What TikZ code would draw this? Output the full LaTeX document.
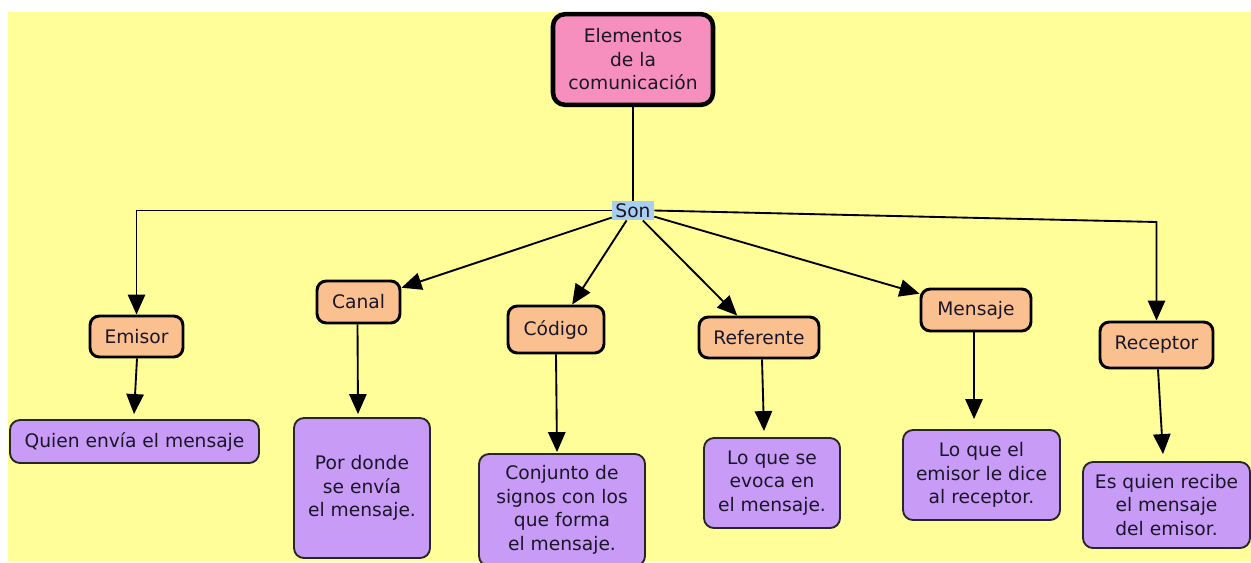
\documentclass[tikz,border=0pt]{standalone}
\usepackage{fontspec}
\setmainfont{DejaVu Sans}
\usetikzlibrary{arrows.meta,calc}
\definecolor{bgyellow}{HTML}{FFFE99}
\definecolor{titlepink}{HTML}{F78FBE}
\definecolor{peach}{HTML}{FAC08F}
\definecolor{lilac}{HTML}{C89BF7}
\definecolor{sonblue}{HTML}{A8CFF0}
\definecolor{txt}{HTML}{1A1628}
\begin{document}
\begin{tikzpicture}[x=0.75pt,y=-0.75pt,
  every node/.style={font=\fontsize{14}{17.6}\selectfont, text=txt, align=center, inner sep=0pt},
  titlebox/.style={draw=black, line width=3.4pt, fill=titlepink, rounded corners=9pt},
  conceptbox/.style={draw=black, line width=2.2pt, fill=peach, rounded corners=7pt},
  descbox/.style={draw=black!85, line width=1.4pt, fill=lilac, rounded corners=7.5pt},
  linkbox/.style={fill=sonblue},
  conn/.style={draw=black, line width=1.4pt},
  arr/.style={conn, -{Triangle[length=15pt,width=13pt]}}
]
\useasboundingbox (0,0) rectangle (1251,562);
\fill[white] (0,0) rectangle (1251,562);
\fill[bgyellow] (8,12) rectangle (1251,562);

% title and linking phrase
\node[titlebox, minimum width=120pt, minimum height=68pt] (title) at (633,59.5) {Elementos\\de la\\comunicación};
\node[linkbox, minimum width=31.5pt, minimum height=14.5pt] (son) at (633,210.5) {Son};

% concepts
\node[conceptbox, minimum width=69.75pt, minimum height=30.75pt] (emisor) at (136.5,336.5) {Emisor};
\node[conceptbox, minimum width=62.25pt, minimum height=31.5pt] (canal) at (358.5,302) {Canal};
\node[conceptbox, minimum width=72pt, minimum height=35.25pt] (codigo) at (556,329.5) {Código};
\node[conceptbox, minimum width=90pt, minimum height=30.75pt] (referente) at (759,337.5) {Referente};
\node[conceptbox, minimum width=82.5pt, minimum height=31.5pt] (mensaje) at (976,310) {Mensaje};
\node[conceptbox, minimum width=84.75pt, minimum height=34.5pt] (receptor) at (1156.5,345) {Receptor};

% descriptions
\node[descbox, minimum width=186.75pt, minimum height=32.25pt] (emdesc) at (134.5,441.5) {Quien envía el mensaje};
\node[descbox, minimum width=102pt, minimum height=105pt] (candesc) at (362,488) {Por donde\\se envía\\el mensaje.};
\node[descbox, minimum width=124.5pt, minimum height=84pt] (coddesc) at (562,510) {Conjunto de\\signos con los\\que forma\\el mensaje.};
\node[descbox, minimum width=102pt, minimum height=67.5pt] (refdesc) at (772,483) {Lo que se\\evoca en\\el mensaje.};
\node[descbox, minimum width=117.75pt, minimum height=67.5pt] (mendesc) at (981.5,475) {Lo que el\\emisor le dice\\al receptor.};
\node[descbox, minimum width=125.25pt, minimum height=64.5pt] (recdesc) at (1166.5,505) {Es quien recibe\\el mensaje\\del emisor.};

% connectors from title to Son
\draw[conn] (title.south) -- (son.north);

% Son to concepts
\draw[arr] (son.west) -| (emisor.north);
\coordinate (rcorner) at (1156.5,222);
\draw[arr] (son.east) -- (rcorner) -- (receptor.north);
\draw[arr] (son) -- (canal);
\draw[arr] (son) -- (codigo);
\draw[arr] (son) -- (referente);
\draw[arr] (son) -- (mensaje);

% concepts to descriptions
\draw[arr] ($(emisor.south)+(0.5,0)$) -- ($(emdesc.north)+(-0.5,-5)$);
\draw[arr] ($(canal.south)+(-1,0)$) -- ($(candesc.north)+(-4,-3)$);
\draw[arr] (codigo.south) -- ($(coddesc.north)+(-5,-1)$);
\draw[arr] ($(referente.south)+(3,0)$) -- ($(refdesc.north)+(-8,-6)$);
\draw[arr] ($(mensaje.south)+(-2,0)$) -- ($(mendesc.north)+(-7.5,-10)$);
\draw[arr] ($(receptor.south)+(1.5,0)$) -- ($(recdesc.north)+(-3.5,-7)$);
\end{tikzpicture}
\end{document}
